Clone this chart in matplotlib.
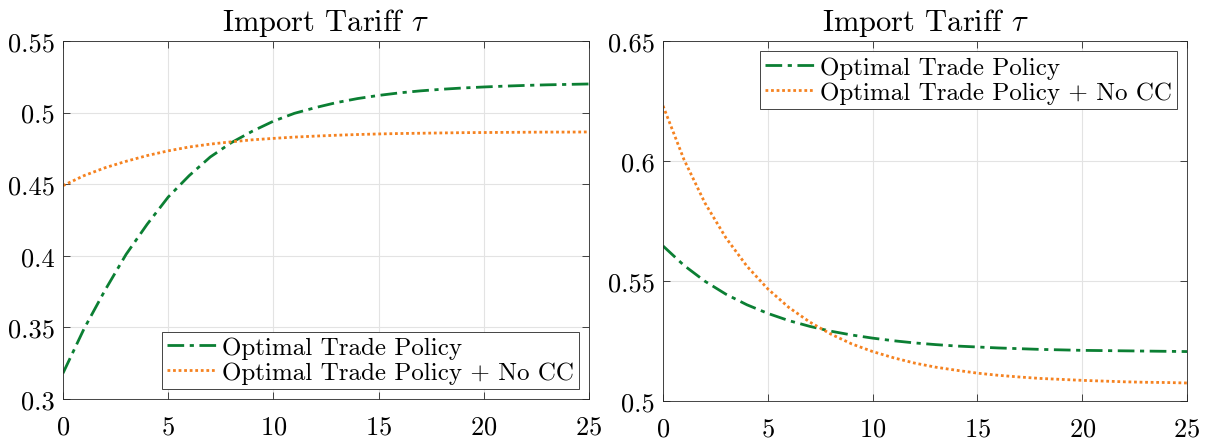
import matplotlib
matplotlib.use('Agg')
import matplotlib.pyplot as plt

plt.rcParams['font.family'] = 'cmr10'
plt.rcParams['mathtext.fontset'] = 'cm'
plt.rcParams['axes.formatter.use_mathtext'] = True

t = list(range(26))

# left panel
left_opt = [0.318, 0.349, 0.376, 0.401, 0.422, 0.441, 0.456, 0.469, 0.479, 0.487,
            0.494, 0.4995, 0.5035, 0.507, 0.5098, 0.512, 0.5138, 0.5152, 0.5163, 0.5172,
            0.5179, 0.5185, 0.519, 0.5194, 0.5197, 0.520]
left_nocc = [0.449, 0.456, 0.4615, 0.466, 0.470, 0.4733, 0.476, 0.478, 0.4796, 0.481,
             0.482, 0.4829, 0.4836, 0.4842, 0.4847, 0.4851, 0.4854, 0.4856, 0.4858, 0.486,
             0.4861, 0.4862, 0.4863, 0.4864, 0.4864, 0.4865]

# right panel
right_opt = [0.5646, 0.5565, 0.5499, 0.5445, 0.5401, 0.5365, 0.5335, 0.5311, 0.5291, 0.5275,
             0.5262, 0.5251, 0.5242, 0.5235, 0.5229, 0.5225, 0.5221, 0.5218, 0.5215, 0.5213,
             0.5211, 0.521, 0.5209, 0.5208, 0.5207, 0.5206]
right_nocc = [0.623, 0.6006, 0.5825, 0.568, 0.5562, 0.5467, 0.539, 0.5329, 0.5279, 0.5238,
              0.5206, 0.518, 0.5158, 0.5141, 0.5128, 0.5116, 0.5107, 0.510, 0.5094, 0.509,
              0.5086, 0.5083, 0.508, 0.5078, 0.5077, 0.5075]

labels = ['Optimal Trade Policy', 'Optimal Trade Policy + No CC']
green = '#0b7f33'
orange = '#f58220'

fig = plt.figure(figsize=(12.11, 4.39), dpi=100)
ax1 = fig.add_axes([0.052, 0.0888, 0.4343, 0.8155])
ax2 = fig.add_axes([0.5475, 0.0843, 0.4327, 0.82])

panels = [(ax1, left_opt, left_nocc, (0.3, 0.55), [0.3, 0.35, 0.4, 0.45, 0.5, 0.55],
           ['0.3', '0.35', '0.4', '0.45', '0.5', '0.55'], 'lower right'),
          (ax2, right_opt, right_nocc, (0.5, 0.65), [0.5, 0.55, 0.6, 0.65],
           ['0.5', '0.55', '0.6', '0.65'], 'upper right')]

for ax, y1, y2, ylim, yt, ytl, loc in panels:
    ax.plot(t, y1, color=green, lw=2.0, ls=(0, (6, 2, 1.5, 2)), label=labels[0])
    ax.plot(t, y2, color=orange, lw=2.0, ls=(0, (1, 1)), label=labels[1])
    ax.set_xlim(0, 25)
    ax.set_ylim(*ylim)
    ax.set_xticks([0, 5, 10, 15, 20, 25])
    ax.set_yticks(yt)
    ax.set_yticklabels(ytl)
    ax.tick_params(direction='in', top=True, right=True, labelsize=19,
                   color='#262626', length=5, width=0.6)
    ax.tick_params(axis='x', pad=11)
    ax.tick_params(axis='y', pad=6)
    ax.grid(True, color='#e3e3e3', lw=0.8)
    ax.set_axisbelow(True)
    for s in ax.spines.values():
        s.set_color('#262626')
        s.set_linewidth(0.6)
    ax.set_title(r'Import Tariff $\tau$', fontsize=22, pad=8)
    leg = ax.legend(loc=loc, fontsize=18, fancybox=False, framealpha=1,
                    edgecolor='#262626', handlelength=2.0, handletextpad=0.2,
                    borderpad=0.2, labelspacing=0.1, borderaxespad=0.4)
    leg.get_frame().set_linewidth(0.6)

fig.savefig('out.png', dpi=100)
